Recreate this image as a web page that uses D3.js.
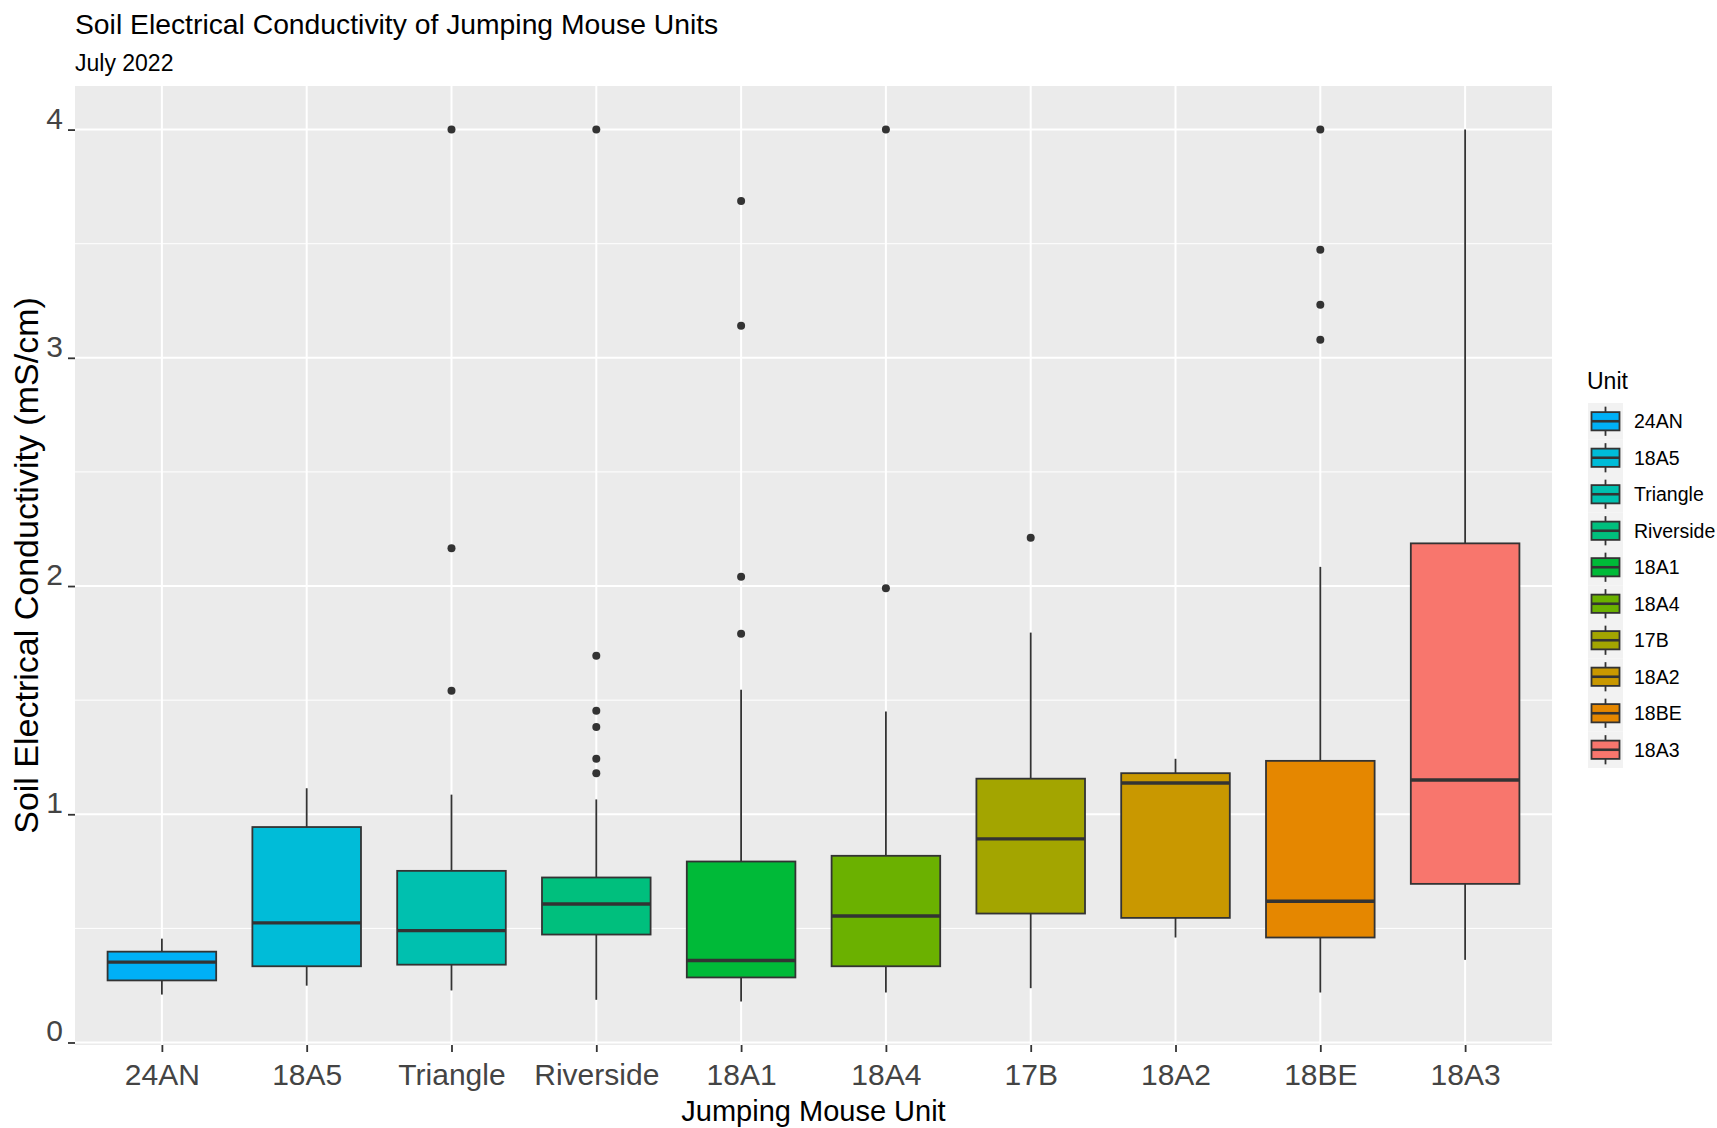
<!DOCTYPE html>
<html>
<head>
<meta charset="utf-8">
<script src="https://cdn.jsdelivr.net/npm/d3@7"></script>
<style>
  html, body { margin: 0; padding: 0; background: #ffffff; }
  svg { display: block; font-family: "Liberation Sans", Arial, sans-serif; }
</style>
</head>
<body>
<svg id="chart" width="1717" height="1128"></svg>
<script>
// Soil EC summaries per unit (mS/cm), July 2022
const units       = ["24AN", "18A5", "Triangle", "Riverside", "18A1", "18A4", "17B", "18A2", "18BE", "18A3"];
const whiskerLow  = [0.21, 0.249, 0.228, 0.187, 0.18, 0.219, 0.238, 0.46, 0.219, 0.362];
const q1          = [0.272, 0.334, 0.341, 0.473, 0.285, 0.334, 0.565, 0.546, 0.46, 0.695];
const medians     = [0.352, 0.524, 0.49, 0.607, 0.359, 0.554, 0.892, 1.137, 0.619, 1.15];
const q3          = [0.398, 0.944, 0.752, 0.723, 0.793, 0.818, 1.156, 1.18, 1.234, 2.187];
const whiskerHigh = [0.455, 1.114, 1.086, 1.065, 1.546, 1.45, 1.796, 1.243, 2.084, 4.0];
const outliers    = [
  [],
  [],
  [4.0, 2.166, 1.541],
  [4.0, 1.695, 1.454, 1.382, 1.243, 1.18],
  [3.687, 3.14, 2.041, 1.791],
  [4.0, 1.99],
  [2.212],
  [],
  [4.0, 3.474, 3.233, 3.079],
  []
];
const yTicks      = [0, 1, 2, 3, 4];
const yMinorTicks = [0.5, 1.5, 2.5, 3.5];
const unitColors  = ["#00B0F6", "#00BCD8", "#00C0AF", "#00BF7D", "#00BA38", "#6BB100", "#A3A500", "#C99800", "#E58700", "#F8766D"];

const svg = d3.select("#chart");
const panel = { left: 75, right: 1552, top: 86, bottom: 1045 };
const ink = "#333333";

// y domain: data range expanded by 5% on both sides
const allVals = whiskerLow.concat(whiskerHigh, outliers.flat());
const lo = d3.min(allVals), hi = d3.max(allVals), pad = (hi - lo) * 0.05;
const y = d3.scaleLinear().domain([lo - pad, hi + pad]).range([panel.bottom, panel.top]);
const x = d3.scalePoint().domain(units).range([panel.left, panel.right]).padding(0.6);
const boxW = x.step() * 0.75;
const color = d3.scaleOrdinal().domain(units).range(unitColors);

// panel background and grid
svg.append("rect")
  .attr("x", panel.left).attr("y", panel.top)
  .attr("width", panel.right - panel.left).attr("height", panel.bottom - panel.top)
  .attr("fill", "#EBEBEB");

const grid = svg.append("g");
grid.selectAll(".minor").data(yMinorTicks).join("line")
  .attr("x1", panel.left).attr("x2", panel.right)
  .attr("y1", d => y(d)).attr("y2", d => y(d))
  .attr("stroke", "#ffffff").attr("stroke-width", 1);
grid.selectAll(".major").data(yTicks).join("line")
  .attr("x1", panel.left).attr("x2", panel.right)
  .attr("y1", d => y(d)).attr("y2", d => y(d))
  .attr("stroke", "#ffffff").attr("stroke-width", 2);
grid.selectAll(".vmajor").data(units).join("line")
  .attr("y1", panel.top).attr("y2", panel.bottom)
  .attr("x1", d => x(d)).attr("x2", d => x(d))
  .attr("stroke", "#ffffff").attr("stroke-width", 2);

// boxplots
const boxes = svg.append("g").selectAll("g").data(units).join("g");
boxes.append("line")
  .attr("x1", d => x(d)).attr("x2", d => x(d))
  .attr("y1", (d, i) => y(q3[i])).attr("y2", (d, i) => y(whiskerHigh[i]))
  .attr("stroke", ink).attr("stroke-width", 1.8);
boxes.append("line")
  .attr("x1", d => x(d)).attr("x2", d => x(d))
  .attr("y1", (d, i) => y(q1[i])).attr("y2", (d, i) => y(whiskerLow[i]))
  .attr("stroke", ink).attr("stroke-width", 1.8);
boxes.append("rect")
  .attr("x", d => x(d) - boxW / 2).attr("width", boxW)
  .attr("y", (d, i) => y(q3[i])).attr("height", (d, i) => y(q1[i]) - y(q3[i]))
  .attr("fill", d => color(d)).attr("stroke", ink).attr("stroke-width", 1.8);
boxes.append("line")
  .attr("x1", d => x(d) - boxW / 2).attr("x2", d => x(d) + boxW / 2)
  .attr("y1", (d, i) => y(medians[i])).attr("y2", (d, i) => y(medians[i]))
  .attr("stroke", ink).attr("stroke-width", 3.4);
boxes.each(function (d, i) {
  d3.select(this).selectAll("circle").data(outliers[i]).join("circle")
    .attr("cx", x(d)).attr("cy", v => y(v)).attr("r", 4)
    .attr("fill", ink);
});

// axes
const yAxis = svg.append("g")
  .attr("transform", `translate(${panel.left},0)`)
  .call(d3.axisLeft(y).tickValues(yTicks).tickFormat(d3.format("d")).tickSize(7).tickPadding(5));
yAxis.select(".domain").remove();
yAxis.selectAll(".tick line").attr("stroke", ink).attr("stroke-width", 1.8);
yAxis.selectAll(".tick text").attr("fill", "#444444").attr("font-size", 30)
  .attr("font-family", "Liberation Sans, Arial, sans-serif").attr("dy", "-0.05em");

const xAxis = svg.append("g")
  .attr("transform", `translate(0,${panel.bottom})`)
  .call(d3.axisBottom(x).tickSize(7).tickPadding(12));
xAxis.select(".domain").remove();
xAxis.selectAll(".tick line").attr("stroke", ink).attr("stroke-width", 1.8);
xAxis.selectAll(".tick text").attr("fill", "#444444").attr("font-size", 30)
  .attr("font-family", "Liberation Sans, Arial, sans-serif");

// titles
svg.append("text").attr("x", 75).attr("y", 34)
  .attr("font-size", 28.3).attr("fill", "#000")
  .text("Soil Electrical Conductivity of Jumping Mouse Units");
svg.append("text").attr("x", 75).attr("y", 71)
  .attr("font-size", 23).attr("fill", "#000")
  .text("July 2022");
svg.append("text")
  .attr("x", (panel.left + panel.right) / 2).attr("y", 1121)
  .attr("text-anchor", "middle").attr("font-size", 29).attr("fill", "#000")
  .text("Jumping Mouse Unit");
svg.append("text")
  .attr("transform", `translate(38,${(panel.top + panel.bottom) / 2}) rotate(-90)`)
  .attr("text-anchor", "middle").attr("font-size", 34).attr("fill", "#000")
  .text("Soil Electrical Conductivity (mS/cm)");

// legend
const leg = { x: 1588, y: 403, w: 35, h: 36.5 };
svg.append("text").attr("x", 1587).attr("y", 389)
  .attr("font-size", 23).attr("fill", "#000").text("Unit");
const keys = svg.append("g").selectAll("g").data(units).join("g")
  .attr("transform", (d, i) => `translate(${leg.x},${leg.y + i * leg.h})`);
keys.append("rect").attr("width", leg.w).attr("height", leg.h).attr("fill", "#F2F2F2");
keys.append("line")
  .attr("x1", leg.w / 2).attr("x2", leg.w / 2)
  .attr("y1", leg.h * 0.1).attr("y2", leg.h * 0.9)
  .attr("stroke", ink).attr("stroke-width", 1.8);
keys.append("rect")
  .attr("x", leg.w * 0.1).attr("width", leg.w * 0.8)
  .attr("y", leg.h * 0.25).attr("height", leg.h * 0.5)
  .attr("fill", d => color(d)).attr("stroke", ink).attr("stroke-width", 1.8);
keys.append("line")
  .attr("x1", leg.w * 0.1).attr("x2", leg.w * 0.9)
  .attr("y1", leg.h / 2).attr("y2", leg.h / 2)
  .attr("stroke", ink).attr("stroke-width", 2.6);
keys.append("text")
  .attr("x", leg.w + 11).attr("y", leg.h / 2).attr("dy", "0.35em")
  .attr("font-size", 19.5).attr("fill", "#000")
  .text(d => d);
</script>
</body>
</html>
